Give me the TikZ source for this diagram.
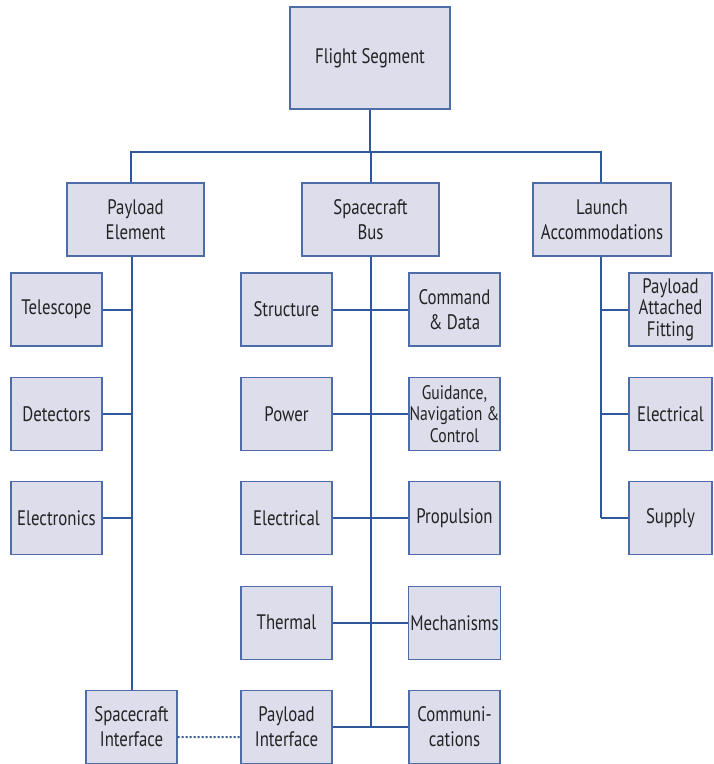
\documentclass[tikz,border=0pt]{standalone}
\usepackage{fontspec}
\setmainfont{PT Sans}[FakeStretch=0.8]
\definecolor{boxfill}{RGB}{221,221,236}
\definecolor{boxline}{RGB}{78,108,168}
\definecolor{linkblue}{RGB}{48,86,156}
\definecolor{txt}{RGB}{35,35,35}
\tikzset{
  box/.style={draw=boxline, fill=boxfill, line width=0.6pt, minimum width=45.5pt,
    minimum height=36.5pt, inner sep=1pt, align=center, text=txt,
    font=\fontsize{10.5}{12.5}\selectfont},
  wide/.style={box, minimum width=68.5pt},
  narrow/.style={box, minimum width=41.5pt},
  tight/.style={font=\fontsize{10.5}{10.8}\selectfont},
  small/.style={font=\fontsize{9.8}{10.8}\selectfont},
  link/.style={draw=linkblue, line width=1pt},
}
\begin{document}
\begin{tikzpicture}[x=0.5pt, y=-0.5pt, node distance=52.2pt]
    \useasboundingbox (0,0) rectangle (713,764);

    % Top levels
    \node[box, minimum width=80pt, minimum height=51pt] (FS) at (370,58) {Flight Segment};
    \node[wide] (PE) at (135.5,219.5) {Payload\\Element};
    \node[wide] (SB) at (370.5,219.5) {Spacecraft\\Bus};
    \node[wide, minimum width=69pt] (LA) at (602,219.5) {Launch\\Accommodations};

    % Payload element
    \node[box] (tel) at (56.5,309.5) {Telescope};
    \node[box, below of=tel] (det) {Detectors};
    \node[box, below of=det] (elx) {Electronics};
    \node[box] (SI) at (131.5,727) {Spacecraft\\Interface};

    % Spacecraft bus
    \node[box] (str) at (286.5,309.5) {Structure};
    \node[box, below of=str] (pow) {Power};
    \node[box, below of=pow] (ele) {Electrical};
    \node[box, below of=ele] (the) {Thermal};
    \node[box, below of=the] (PI) {Payload\\Interface};
    \node[box] (cmd) at (454.5,309.5) {Command\\\& Data};
    \node[box, small, inner sep=0pt, below of=cmd] (gnc) {Guidance,\\Navigation \&\\Control};
    \node[box, below of=gnc] (pro) {Propulsion};
    \node[box, below of=pro] (mec) {Mechanisms};
    \node[box, below of=mec] (com) {Communi-\\cations};

    % Launch accommodations
    \node[narrow, tight] (paf) at (670.5,309.5) {Payload\\Attached\\Fitting};
    \node[narrow, below of=paf] (lel) {Electrical};
    \node[narrow, below of=lel] (sup) {Supply};

    % Tree lines
    \coordinate (bl) at (131,152);
    \coordinate (br) at (601,152);
    \draw[link] (FS.south) -- (FS.south |- bl);
    \draw[link] (bl |- PE.north) -- (bl) -- (br) -- (br |- LA.north);
    \draw[link] (SB.north) -- (SB.north |- bl);

    \draw[link] (SI |- PE.south) -- (SI.north);
    \draw[link] (tel.east) -- (tel.east -| SI);
    \draw[link] (det.east) -- (det.east -| SI);
    \draw[link] (elx.east) -- (elx.east -| SI);

    \draw[link] (SB.south) -- (SB.south |- com);
    \draw[link] (str.east) -- (cmd.west);
    \draw[link] (pow.east) -- (gnc.west);
    \draw[link] (ele.east) -- (pro.west);
    \draw[link] (the.east) -- (mec.west);
    \draw[link] (PI.east) -- (com.west);

    \draw[link] (br |- LA.south) -- (br |- sup);
    \draw[link] (paf.west) -- (paf.west -| br);
    \draw[link] (lel.west) -- (lel.west -| br);
    \draw[link] (sup.west) -- (sup.west -| br);

    % Interface
    \draw[link, densely dotted] ([yshift=-5pt]SI.east) -- ([yshift=-5pt]PI.west);

    \end{tikzpicture}
\end{document}
